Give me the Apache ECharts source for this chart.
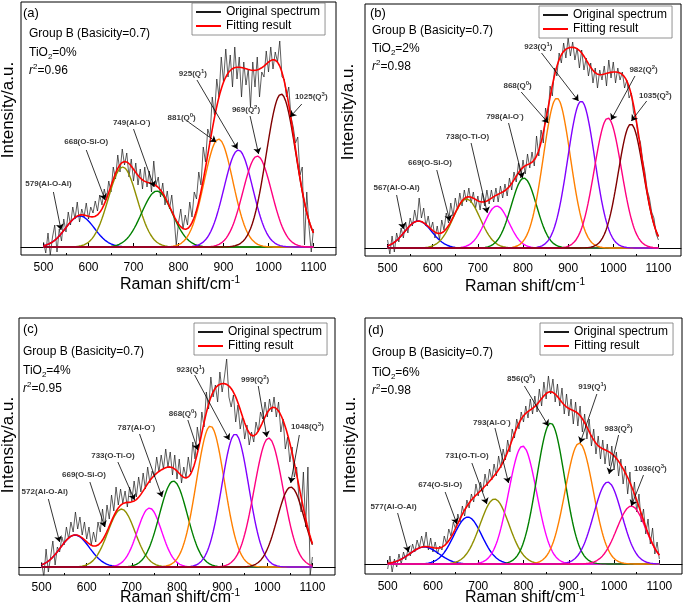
<!DOCTYPE html>
<html><head><meta charset="utf-8">
<script src="https://cdn.jsdelivr.net/npm/echarts@6/dist/echarts.min.js"></script>
<style>html,body{margin:0;padding:0;background:#fff}#c{width:685px;height:607px}</style>
</head><body><div id="c"></div>
<script>
// ---------------- data ----------------
const ramanShift = [500,505,510,515,520,525,530,535,540,545,550,555,560,565,570,575,580,585,590,595,
600,605,610,615,620,625,630,635,640,645,650,655,660,665,670,675,680,685,690,695,
700,705,710,715,720,725,730,735,740,745,750,755,760,765,770,775,780,785,790,795,
800,805,810,815,820,825,830,835,840,845,850,855,860,865,870,875,880,885,890,895,
900,905,910,915,920,925,930,935,940,945,950,955,960,965,970,975,980,985,990,995,
1000,1005,1010,1015,1020,1025,1030,1035,1040,1045,1050,1055,1060,1065,1070,1075,1080,1085,1090,1095,1100];
const xTickLabels = [500,600,700,800,900,1000,1100];
const xMinorTicks = [550,650,750,850,950,1050];

const spectrumA = [5,-6,14,-8,10,22,-5,18,6,28, 15,35,22,40,28,45,25,38,30,44,
28,40,34,46,36,52,42,58,48,66, 55,80,68,92,75,98,82,94,70,88,
66,84,62,78,58,80,60,76,55,86, 62,70,50,64,42,56,38,52,30,2,
24,38,18,32,22,45,30,55,48,75, 62,100,85,118,110,150,132,168,150,190,
165,198,170,192,160,200,168,190,150,185, 162,178,140,185,160,190,150,175,170,196,
175,200,178,195,185,206,170,168,150,160, 130,120,104,110,72,80,2,55,20,-5, 18];
const spectrumB = [8,-6,12,-4,15,6,20,10,26,15, 30,22,38,26,50,30,40,22,32,18,
26,10,22,8,28,18,35,25,45,32, 50,38,55,42,58,46,60,45,56,40,
52,38,55,42,58,44,58,46,60,46, 62,50,64,52,70,58,76,66,85,70,
88,74,94,80,96,82,112,92,118,105, 140,128,162,152,180,172,195,185,205,190,
210,192,206,188,200,180,198,178,190,172, 185,165,180,160,178,168,182,162,188,170,
186,165,180,168,176,160,168,150,155,135, 130,112,106,88,76,58,50,36,30,14, 8];
const spectrumC = [5,-10,18,-5,10,26,2,20,15,30, 22,40,28,45,35,55,38,50,32,45,
28,40,22,35,25,45,35,58,40,62, 48,72,56,80,62,78,64,76,60,80,
66,86,70,90,75,94,78,100,84,96, 90,110,95,112,98,118,100,115,92,112,
88,108,84,100,90,110,95,125,108,140, 125,155,140,175,158,190,170,182,165,195,
175,190,208,170,160,172,145,162,138,150, 128,142,122,135,125,145,135,155,148,165,
150,168,155,170,150,165,135,148,118,130, 105,120,90,100,70,55,95,40,100,-8, 10];
const spectrumD = [-5,8,-8,5,-3,10,0,12,4,15, 8,20,12,24,16,28,18,32,14,26,
12,22,10,18,14,28,20,35,28,42, 35,50,42,58,48,64,56,70,62,80,
68,82,72,90,78,95,84,100,88,108, 96,115,104,124,112,135,126,145,135,152,
142,158,146,165,150,168,152,175,158,182, 165,188,170,185,162,180,158,176,150,170,
148,165,140,162,138,158,132,150,125,145, 118,135,110,128,105,124,100,120,98,118,
94,112,88,105,80,98,70,92,62,82, 52,70,42,55,30,45,20,36,10,22, 5];

// fitted Gaussian components: centre (cm-1), height, width (sigma)
const peakCentersA = [581,676,752,889,933,975,1028];
const peakHeightsA = [31,80,56,108,97,91,153];
const peakWidthsA  = [32,32,34,32,32,32,33];
const peakCentersB = [568,675,742,802,875,929,988,1039];
const peakHeightsB = [27,49,42,70,150,147,130,124];
const peakWidthsB  = [30,30,27,28,30,30,30,28];
const peakCentersC = [574,677,739,792,874,929,1003,1052];
const peakHeightsC = [32,58,59,86,141,133,129,80];
const peakWidthsC  = [32,30,27,31,31,30,32,30];
const peakCentersD = [581,677,736,798,860,923,986,1038];
const peakHeightsD = [17,47,65,118,141,121,82,58];
const peakWidthsD  = [32,31,32,31,31,31,31,32];

const panelTags = ['(a)','(b)','(c)','(d)'];
const tio2Values = ['0%','2%','4%','6%'];
const r2Values = ['0.96','0.98','0.95','0.98'];

// '^x' marks a superscript character
const peakLabelsA = ['579(Al-O-Al)','668(O-Si-O)','749(Al-O^-)','881(Q^0)','925(Q^1)','969(Q^2)','1025(Q^3)'];
const peakLabelsB = ['567(Al-O-Al)','669(O-Si-O)','738(O-Ti-O)','798(Al-O^-)','868(Q^0)','923(Q^1)','982(Q^2)','1035(Q^3)'];
const peakLabelsC = ['572(Al-O-Al)','669(O-Si-O)','733(O-Ti-O)','787(Al-O^-)','868(Q^0)','923(Q^1)','999(Q^2)','1048(Q^3)'];
const peakLabelsD = ['577(Al-O-Al)','674(O-Si-O)','731(O-Ti-O)','793(Al-O^-)','856(Q^0)','919(Q^1)','983(Q^2)','1036(Q^3)'];

// annotation anchors in data units: label centre, arrow tail, arrow head
const labelPosA = [[511,63],[595,105],[696,124],[807,129],[832,173],[950,137],[1095,150]];
const arrowFromA = [[522,55],[595,97],[700,118],[822,125],[841,167],[959,131],[1074,143]];
const arrowToA   = [[539,17],[637,47],[746,60],[884,105],[931,98],[978,93],[1048,130]];
const labelPosB = [[520,60],[594,85],[677,111],[760,131],[788,162],[834,201],[1067,178],[1093,152]];
const arrowFromB = [[520,53],[609,78],[685,105],[768,125],[796,156],[841,195],[1048,172],[1074,147]];
const arrowToB   = [[535,19],[638,27],[721,35],[799,70],[856,125],[923,147],[995,128],[1040,127]];
const labelPosC = [[507,75],[594,92],[658,111],[710,139],[813,153],[830,197],[973,187],[1089,140]];
const arrowFromC = [[515,68],[607,85],[669,105],[717,133],[824,147],[839,192],[980,181],[1071,132]];
const arrowToC   = [[540,25],[640,40],[706,67],[767,70],[846,117],[916,127],[999,130],[1052,84]];
const labelPosD = [[513,57],[616,79],[675,108],[730,141],[795,185],[952,177],[1010,135],[1080,95]];
const arrowFromD = [[522,51],[627,72],[686,101],[737,136],[802,178],[962,170],[1010,129],[1065,89]];
const arrowToD   = [[546,12],[653,40],[719,60],[767,81],[855,138],[925,121],[989,90],[1038,58]];

// ---------------- styles / layout ----------------
const OL='#909000', BL='#0000FF', GR='#008000', MA='#FF00FF', OR='#FF8000', VI='#8000FF', PK='#FF0080', WI='#800000';
const peakColors = [
  [BL,OL,GR,OR,VI,PK,WI],
  [BL,OL,MA,GR,OR,VI,PK,WI],
  [BL,OL,MA,GR,OR,VI,PK,WI],
  [BL,BL,OL,MA,GR,OR,VI,PK]
];
const layout = [
  {grid:{left:21,top:2,width:315,height:253}, y:[-8,245], legend:[192,3], tag:[23,13], info:[29,34,53,71], yT:[8,110], xT:[180,285]},
  {grid:{left:365,top:4,width:316,height:252}, y:[-8,244], legend:[539,6], tag:[370,13], info:[372,31,49,67], yT:[348,112], xT:[525,287]},
  {grid:{left:19,top:318,width:316,height:257}, y:[-8,249], legend:[194,323], tag:[23,329], info:[23,352,371,389], yT:[8,445], xT:[180,598]},
  {grid:{left:365,top:318,width:317,height:256}, y:[-10,246], legend:[540,323], tag:[368,330], info:[372,353,373,391], yT:[350,445], xT:[525,598]}
];
const FF = 'Liberation Sans, Arial, DejaVu Sans, sans-serif';

const panels = [
  {spec:spectrumA, c:peakCentersA, h:peakHeightsA, w:peakWidthsA, lab:peakLabelsA, pos:labelPosA, af:arrowFromA, at:arrowToA},
  {spec:spectrumB, c:peakCentersB, h:peakHeightsB, w:peakWidthsB, lab:peakLabelsB, pos:labelPosB, af:arrowFromB, at:arrowToB},
  {spec:spectrumC, c:peakCentersC, h:peakHeightsC, w:peakWidthsC, lab:peakLabelsC, pos:labelPosC, af:arrowFromC, at:arrowToC},
  {spec:spectrumD, c:peakCentersD, h:peakHeightsD, w:peakWidthsD, lab:peakLabelsD, pos:labelPosD, af:arrowFromD, at:arrowToD}
];

function richLabel(t) {
  const k = t.indexOf('^');
  if (k < 0) return '{b|' + t + '}';
  return '{b|' + t.slice(0, k) + '}{s|' + t.charAt(k + 1) + '}{b|' + t.slice(k + 2) + '}';
}

const fitX = [];
for (let x = 500; x <= 1100; x += 2) fitX.push(x);
function gauss(c, h, s, x) { return h * Math.exp(-(x - c) * (x - c) / (2 * s * s)); }

const grids = [], xAxes = [], yAxes = [], series = [], legends = [], graphics = [];
panels.forEach((p, i) => {
  const L = layout[i];
  grids.push(Object.assign({show:true, borderColor:'#000', borderWidth:1, containLabel:false}, L.grid));
  xAxes.push({gridIndex:i, type:'value', min:450, max:1150, position:'bottom',
    axisLine:{show:true, lineStyle:{color:'#000', width:1}},
    axisTick:{show:true, inside:true, length:4, customValues:xTickLabels, lineStyle:{color:'#000'}},
    axisLabel:{show:true, customValues:xTickLabels, formatter:(v)=>String(v), fontSize:12, color:'#000', fontFamily:FF, margin:7},
    splitLine:{show:false}});
  xAxes.push({gridIndex:i, type:'value', min:450, max:1150, position:'bottom',
    axisLine:{show:false},
    axisTick:{show:true, inside:true, length:2, customValues:xMinorTicks, lineStyle:{color:'#000'}},
    axisLabel:{show:false}, splitLine:{show:false}});
  yAxes.push({gridIndex:i, type:'value', min:L.y[0], max:L.y[1], show:false});

  series.push({type:'line', name:'Original spectrum', xAxisIndex:2*i, yAxisIndex:i,
    data: ramanShift.map((x,k)=>[x, p.spec[k]]), symbol:'none', showSymbol:false, z:2,
    lineStyle:{color:'#1a1a1a', width:0.7}, itemStyle:{color:'#1a1a1a'}, silent:true});
  const fit = fitX.map(() => 0);
  p.c.forEach((c, j) => {
    const d = fitX.map((x, k) => { const v = gauss(c, p.h[j], p.w[j], x); fit[k] += v; return [x, v]; });
    series.push({type:'line', name:'peak'+i+'_'+j, xAxisIndex:2*i, yAxisIndex:i, data:d, symbol:'none', z:3,
      lineStyle:{color:peakColors[i][j], width:1.4}, silent:true});
  });
  series.push({type:'line', name:'Fitting result', xAxisIndex:2*i, yAxisIndex:i,
    data: fitX.map((x,k)=>[x, fit[k]]), symbol:'none', showSymbol:false, z:4,
    lineStyle:{color:'#FF0000', width:1.6}, itemStyle:{color:'#FF0000'}, silent:true});
  series.push({type:'scatter', name:'ann'+i, xAxisIndex:2*i, yAxisIndex:i, symbolSize:0, z:5, silent:true,
    data: p.pos.map((q, j) => ({value:q, label:{formatter:richLabel(p.lab[j])}})),
    label:{show:true, position:'inside', color:'#000',
      rich:{b:{fontSize:8, fontWeight:'bold', fontFamily:FF, color:'#000', lineHeight:11},
            s:{fontSize:6, fontWeight:'bold', fontFamily:FF, color:'#000', lineHeight:6, verticalAlign:'top'}}},
    markLine:{silent:true, symbol:['none','arrow'], symbolSize:6, animation:false,
      label:{show:false}, lineStyle:{color:'#000', width:0.8, type:'solid'},
      data: p.af.map((f, j) => [{coord:f}, {coord:p.at[j]}])}
  });

  legends.push({left:L.legend[0], top:L.legend[1], orient:'vertical',
    data:[{name:'Original spectrum', icon:'rect'}, {name:'Fitting result', icon:'rect'}],
    itemWidth:25, itemHeight:2, itemGap:0, padding:[2,5,2,4], borderColor:'#777', borderWidth:0.8,
    selectedMode:false, textStyle:{fontSize:12, fontFamily:FF, color:'#000', lineHeight:14}});

  const txt = (x, y, text, size, extra) => Object.assign({type:'text', x:x, y:y, silent:true,
    style:Object.assign({text:text, fontSize:size, fontFamily:FF, fill:'#000', align:'left', verticalAlign:'middle',
      textAlign:'left', textVerticalAlign:'middle'}, (extra||{}).style || {})}, (extra||{}).el || {});
  graphics.push(txt(L.tag[0], L.tag[1], panelTags[i], 13));
  graphics.push(txt(L.info[0], L.info[1], 'Group B (Basicity=0.7)', 12));
  graphics.push(txt(L.info[0], L.info[2], '{n|TiO}{sub|2}{n|=' + tio2Values[i] + '}', 12,
    {style:{rich:{n:{fontSize:12, fontFamily:FF, fill:'#000', lineHeight:16}, sub:{fontSize:8, fontFamily:FF, fill:'#000', lineHeight:9, verticalAlign:'bottom'}}}}));
  graphics.push(txt(L.info[0], L.info[3], '{i|r}{sup|2}{n|=' + r2Values[i] + '}', 12,
    {style:{rich:{i:{fontSize:12, fontStyle:'italic', fontFamily:FF, fill:'#000', lineHeight:16}, n:{fontSize:12, fontFamily:FF, fill:'#000', lineHeight:16}, sup:{fontSize:8, fontFamily:FF, fill:'#000', lineHeight:8, verticalAlign:'top'}}}}));
  graphics.push(txt(L.xT[0], L.xT[1], '{n|Raman shift/cm}{sup|-1}', 16,
    {style:{align:'center', textAlign:'center', rich:{n:{fontSize:16, fontFamily:FF, fill:'#000', lineHeight:20}, sup:{fontSize:10, fontFamily:FF, fill:'#000', lineHeight:10, verticalAlign:'top'}}}}));
  graphics.push(txt(L.yT[0], L.yT[1], 'Intensity/a.u.', 17,
    {style:{align:'center', textAlign:'center'}, el:{rotation:Math.PI/2}}));
});

const chart = echarts.init(document.getElementById('c'), null, {renderer:'canvas'});
chart.setOption({
  animation:false,
  backgroundColor:'#fff',
  grid:grids, xAxis:xAxes, yAxis:yAxes, series:series, legend:legends,
  graphic:{elements:graphics}
});
</script>
</body></html>
